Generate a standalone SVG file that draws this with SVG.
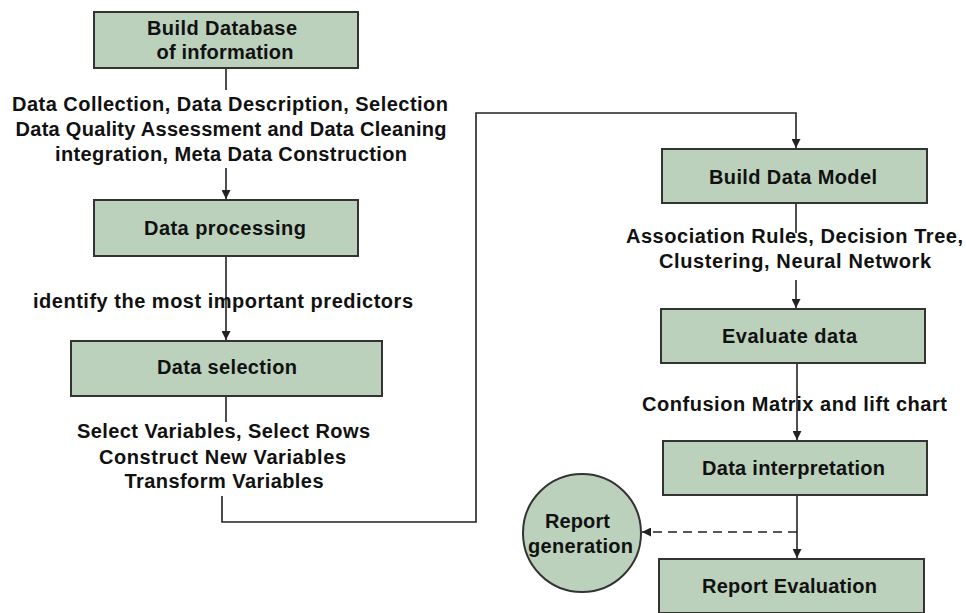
<svg xmlns="http://www.w3.org/2000/svg" width="966" height="613" viewBox="0 0 966 613">
<style>
.box{fill:#bcd1bc;stroke:#333;stroke-width:2}
.t{font-family:"Liberation Sans",Arial,sans-serif;font-weight:bold;font-size:20px;fill:#111;text-anchor:middle}
.c{fill:none;stroke:#222;stroke-width:1.6}
.d{stroke-dasharray:9,6}
</style>
<defs>
<marker id="ah" viewBox="0 0 10 10" refX="10" refY="5" markerWidth="9" markerHeight="9" markerUnits="userSpaceOnUse" orient="auto">
<path d="M0,0 L10,5 L0,10 z" fill="#222"/>
</marker>
</defs>
<rect width="966" height="613" fill="#fff"/>
<g id="connectors">
<line class="c" x1="226" y1="68" x2="226" y2="90"/>
<line class="c" x1="226" y1="168" x2="226" y2="199" marker-end="url(#ah)"/>
<line class="c" x1="226" y1="256" x2="226" y2="340" marker-end="url(#ah)"/>
<line class="c" x1="226" y1="396" x2="226" y2="422"/>
<polyline class="c" points="222,496 222,522 476,522 476,113 796,113 796,148" marker-end="url(#ah)"/>
<line class="c" x1="796" y1="203" x2="796" y2="233"/>
<line class="c" x1="796" y1="280" x2="796" y2="308" marker-end="url(#ah)"/>
<line class="c" x1="797" y1="363" x2="797" y2="440" marker-end="url(#ah)"/>
<line class="c" x1="797" y1="495" x2="797" y2="558" marker-end="url(#ah)"/>
<line class="c d" x1="797" y1="532" x2="642" y2="532" marker-end="url(#ah)"/>
</g>
<g id="label1">
<text class="t" x="230" y="111" textLength="436">Data Collection,  Data Description,  Selection</text>
<text class="t" x="231" y="136" textLength="431">Data Quality  Assessment and  Data Cleaning</text>
<text class="t" x="231" y="161" textLength="352">integration,  Meta Data Construction</text>
</g>
<g id="label2">
<text class="t" x="223" y="308" textLength="380">identify  the most important  predictors</text>
</g>
<g id="label3">
<text class="t" x="223.5" y="438" textLength="293">Select Variables,  Select Rows</text>
<text class="t" x="222.5" y="464" textLength="247">Construct  New Variables</text>
<text class="t" x="224" y="488" textLength="199">Transform  Variables</text>
</g>
<g id="label4">
<text class="t" x="794.5" y="243" textLength="337">Association  Rules, Decision Tree,</text>
<text class="t" x="795" y="268" textLength="272">Clustering, Neural  Network</text>
</g>
<g id="label5">
<text class="t" x="794.5" y="411" textLength="305">Confusion  Matrix and lift chart</text>
</g>
<g id="build-database">
<rect class="box" x="94" y="12" width="264" height="56"/>
<text class="t" x="222" y="35" textLength="150">Build  Database</text>
<text class="t" x="225" y="59" textLength="137">of information</text>
</g>
<g id="data-processing">
<rect class="box" x="94" y="200" width="264" height="56"/>
<text class="t" x="225" y="235" textLength="162">Data processing</text>
</g>
<g id="data-selection">
<rect class="box" x="71" y="341" width="311" height="55"/>
<text class="t" x="227" y="374" textLength="140">Data  selection</text>
</g>
<g id="build-data-model">
<rect class="box" x="662" y="149" width="265" height="54"/>
<text class="t" x="793" y="184" textLength="168">Build  Data Model</text>
</g>
<g id="evaluate-data">
<rect class="box" x="661" y="309" width="264" height="54"/>
<text class="t" x="789.5" y="343" textLength="135">Evaluate  data</text>
</g>
<g id="data-interpretation">
<rect class="box" x="663" y="441" width="264" height="54"/>
<text class="t" x="793.5" y="475" textLength="183">Data interpretation</text>
</g>
<g id="report-generation">
<circle class="box" cx="582" cy="533" r="59"/>
<text class="t" x="577.5" y="528" textLength="65">Report</text>
<text class="t" x="580.5" y="553" textLength="105">generation</text>
</g>
<g id="report-evaluation">
<rect class="box" x="659" y="559" width="265" height="54"/>
<text class="t" x="789.5" y="593" textLength="175">Report  Evaluation</text>
</g>
</svg>
